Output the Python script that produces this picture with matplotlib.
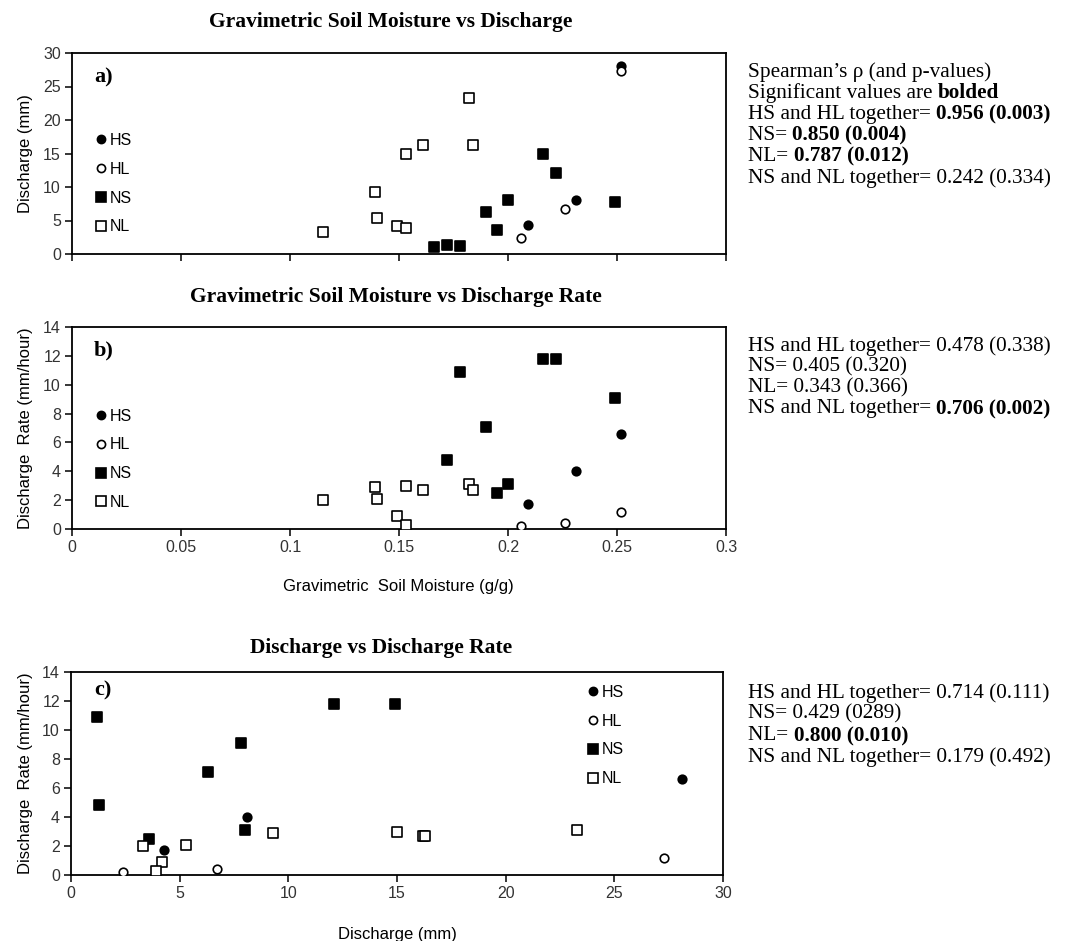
import matplotlib
matplotlib.use("Agg")
import matplotlib.pyplot as plt
from matplotlib.lines import Line2D

nan = float("nan")

# soil moisture (g/g), discharge (mm) and discharge rate (mm/hour) per group
hs_moisture = [0.252, 0.231, 0.209]
hs_discharge = [28.1, 8.1, 4.3]
hs_rate = [6.6, 4.0, 1.7]

hl_moisture = [0.252, 0.226, 0.206]
hl_discharge = [27.3, 6.7, 2.4]
hl_rate = [1.2, 0.4, 0.2]

ns_moisture = [0.166, 0.172, 0.178, 0.190, 0.195, 0.200, 0.216, 0.222, 0.249]
ns_discharge = [1.0, 1.3, 1.2, 6.3, 3.6, 8.0, 14.9, 12.1, 7.8]
ns_rate = [nan, 4.8, 10.9, 7.1, 2.5, 3.1, 11.8, 11.8, 9.1]

nl_moisture = [0.115, 0.139, 0.140, 0.149, 0.153, 0.153, 0.161, 0.182, 0.184]
nl_discharge = [3.3, 9.3, 5.3, 4.2, 3.9, 15.0, 16.2, 23.3, 16.3]
nl_rate = [2.0, 2.9, 2.1, 0.9, 0.3, 3.0, 2.7, 3.1, 2.7]

groups = ["HS", "HL", "NS", "NL"]

# Spearman results shown next to each panel: (plain part, bold part)
stats_a = [("Spearman\u2019s \u03c1 (and p-values)", ""),
           ("Significant values are ", "bolded"),
           ("HS and HL together= ", "0.956 (0.003)"),
           ("NS= ", "0.850 (0.004)"),
           ("NL= ", "0.787 (0.012)"),
           ("NS and NL together= 0.242 (0.334)", "")]
stats_b = [("HS and HL together= 0.478 (0.338)", ""),
           ("NS= 0.405 (0.320)", ""),
           ("NL= 0.343 (0.366)", ""),
           ("NS and NL together= ", "0.706 (0.002)")]
stats_c = [("HS and HL together= 0.714 (0.111)", ""),
           ("NS= 0.429 (0289)", ""),
           ("NL= ", "0.800 (0.010)"),
           ("NS and NL together= 0.179 (0.492)", "")]

sans = "Liberation Sans"
serif = "Liberation Serif"
tick_color = "#333333"

styles = {
    "HS": dict(marker="o", facecolor="black", edgecolor="black", s=38),
    "HL": dict(marker="o", facecolor="white", edgecolor="black", s=38),
    "NS": dict(marker="s", facecolor="black", edgecolor="black", s=62),
    "NL": dict(marker="s", facecolor="white", edgecolor="black", s=62),
}

fig = plt.figure(figsize=(10.68, 9.41), dpi=100)
W, H = 1068, 941


def make_axes(left, top, right, bottom):
    return fig.add_axes([left / W, 1 - bottom / H, (right - left) / W, (bottom - top) / H])


ax_a = make_axes(72, 53, 726, 254)
ax_b = make_axes(72, 327, 726, 529)
ax_c = make_axes(71, 672, 723, 875)


def scatter_groups(ax, xs, ys):
    for g, x, y in zip(groups, xs, ys):
        st = styles[g]
        ax.scatter(x, y, marker=st["marker"], s=st["s"], facecolors=st["facecolor"],
                   edgecolors=st["edgecolor"], linewidths=1.2, zorder=3)


def style_axes(ax, xlim, xticks, ylim, yticks, show_xlabels=True):
    ax.set_xlim(*xlim)
    ax.set_ylim(*ylim)
    ax.set_xticks(xticks)
    ax.set_yticks(yticks)
    for sp in ax.spines.values():
        sp.set_linewidth(1.3)
        sp.set_color("black")
    ax.tick_params(direction="out", length=5, width=1.1, color="black",
                   labelsize=11.5, labelcolor=tick_color, pad=3)
    for lbl in ax.get_xticklabels() + ax.get_yticklabels():
        lbl.set_fontfamily(sans)
    if not show_xlabels:
        ax.tick_params(axis="x", labelbottom=False)


def add_legend(ax, x, y):
    handles = []
    for g in groups:
        st = styles[g]
        handles.append(Line2D([], [], linestyle="none", marker=st["marker"],
                              markersize=(st["s"] ** 0.5) * 0.95,
                              markerfacecolor=st["facecolor"],
                              markeredgecolor=st["edgecolor"], markeredgewidth=1.2))
    ax.legend(handles, groups, loc="center left", bbox_to_anchor=(x, y),
              frameon=False, borderaxespad=0, borderpad=0, handlelength=0.7,
              handletextpad=0.2, labelspacing=0.86,
              prop={"family": sans, "size": 11.5})


# a) soil moisture vs discharge
scatter_groups(ax_a, [hs_moisture, hl_moisture, ns_moisture, nl_moisture],
               [hs_discharge, hl_discharge, ns_discharge, nl_discharge])
style_axes(ax_a, (0, 0.3), [0, 0.05, 0.1, 0.15, 0.2, 0.25, 0.3],
           (0, 30), range(0, 31, 5), show_xlabels=False)
ax_a.set_ylabel("Discharge (mm)", fontfamily=sans, fontsize=12)
ax_a.yaxis.set_label_coords(-0.06, 0.5)
add_legend(ax_a, 0.036, 0.35)

# b) soil moisture vs discharge rate
scatter_groups(ax_b, [hs_moisture, hl_moisture, ns_moisture, nl_moisture],
               [hs_rate, hl_rate, ns_rate, nl_rate])
style_axes(ax_b, (0, 0.3), [0, 0.05, 0.1, 0.15, 0.2, 0.25, 0.3],
           (0, 14), range(0, 15, 2))
ax_b.set_xticklabels(["0", "0.05", "0.1", "0.15", "0.2", "0.25", "0.3"], fontfamily=sans)
ax_b.set_ylabel("Discharge  Rate (mm/hour)", fontfamily=sans, fontsize=12)
ax_b.yaxis.set_label_coords(-0.06, 0.5)
ax_b.set_xlabel("Gravimetric  Soil Moisture (g/g)", fontfamily=sans, fontsize=12)
ax_b.xaxis.set_label_coords(0.4985, -0.2475)
add_legend(ax_b, 0.036, 0.345)

# c) discharge vs discharge rate
scatter_groups(ax_c, [hs_discharge, hl_discharge, ns_discharge, nl_discharge],
               [hs_rate, hl_rate, ns_rate, nl_rate])
style_axes(ax_c, (0, 30), range(0, 31, 5), (0, 14), range(0, 15, 2))
ax_c.set_ylabel("Discharge  Rate (mm/hour)", fontfamily=sans, fontsize=12)
ax_c.yaxis.set_label_coords(-0.058, 0.5)
ax_c.set_xlabel("Discharge (mm)", fontfamily=sans, fontsize=12)
ax_c.xaxis.set_label_coords(0.5, -0.258)
add_legend(ax_c, 0.792, 0.687)

# panel letters
for ax, letter, ly in [(ax_a, "a)", 0.88), (ax_b, "b)", 0.886), (ax_c, "c)", 0.91)]:
    ax.text(0.049, ly, letter, transform=ax.transAxes, fontfamily=serif,
            fontweight="bold", fontsize=16, ha="center", va="center")

# panel titles
titles = [("Gravimetric Soil Moisture vs Discharge", 391, 22),
          ("Gravimetric Soil Moisture vs Discharge Rate", 396, 297),
          ("Discharge vs Discharge Rate", 381, 648)]
for t, x, y in titles:
    fig.text(x / W, 1 - y / H, t, fontfamily=serif, fontweight="bold",
             fontsize=15.5, ha="center", va="center")

# statistics blocks, mixing plain and bold runs on a line
fig.canvas.draw()
renderer = fig.canvas.get_renderer()


def stat_block(lines, x0, ys):
    for (plain, bold), y in zip(lines, ys):
        yf = 1 - y / H
        t = fig.text(x0 / W, yf, plain, fontfamily=serif, fontsize=15.3,
                     ha="left", va="center")
        if bold:
            bb = t.get_window_extent(renderer=renderer)
            fig.text(bb.x1 / W, yf, bold, fontfamily=serif, fontweight="bold",
                     fontsize=15.3, ha="left", va="center")


stat_block(stats_a, 748, [71.7, 93.3, 114, 135, 156.7, 178])
stat_block(stats_b, 748, [346, 366.7, 388, 409])
stat_block(stats_c, 748, [693, 714, 736, 757])

fig.savefig("out.png", dpi=100)
